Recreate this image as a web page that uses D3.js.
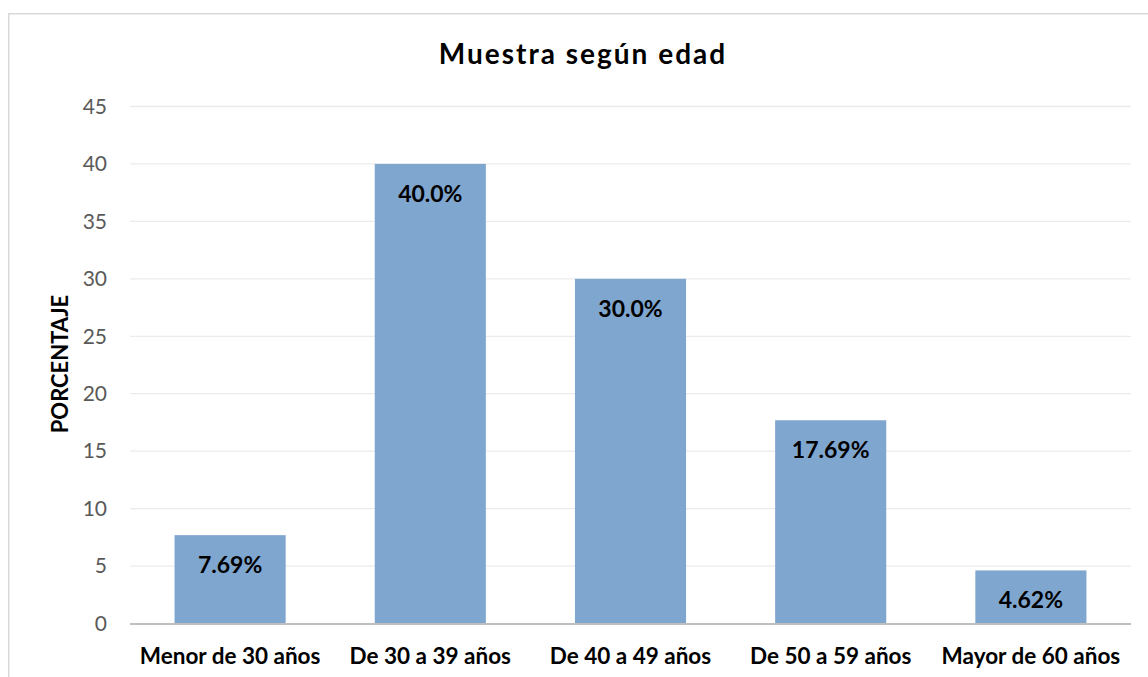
<!DOCTYPE html>
<html><head><meta charset="utf-8">
<script src="https://cdn.jsdelivr.net/npm/d3@7"></script>
<style>body{margin:0;background:#fff}svg{display:block}text{font-family:Lato,"Open Sans",sans-serif}</style>
</head><body><svg id="c" width="1148" height="677"></svg>
<script>
const categories = ["Menor de 30 años","De 30 a 39 años","De 40 a 49 años","De 50 a 59 años","Mayor de 60 años"];
const values = [7.69, 40.0, 30.0, 17.69, 4.62];
const valueLabels = ["7.69%","40.0%","30.0%","17.69%","4.62%"];
const yTicks = [0,5,10,15,20,25,30,35,40,45];
const title = "Muestra según edad";
const yTitle = "PORCENTAJE";

const svg = d3.select("#c");
const m = {left:130, right:1131, top:106.5, bottom:623.5};
svg.append("rect").attr("x",8.75).attr("y",13.75).attr("width",1200).attr("height",700)
  .attr("fill","#fff").attr("stroke","#D9D9D9").attr("stroke-width",1.5);

const x = d3.scaleBand().domain(categories).range([m.left,m.right]).paddingInner(0.445).paddingOuter(0.2225);
const y = d3.scaleLinear().domain([0,45]).range([m.bottom,m.top]);

const grid = svg.append("g");
grid.selectAll("line").data(yTicks.filter(d=>d>0)).join("line")
  .attr("x1",m.left).attr("x2",m.right).attr("y1",d=>y(d)).attr("y2",d=>y(d))
  .attr("stroke","#EBEBEB").attr("stroke-width",1.3);

const yAxis = svg.append("g").attr("transform",`translate(${m.left},0)`)
  .call(d3.axisLeft(y).tickValues(yTicks).tickSize(0).tickPadding(23));
yAxis.select(".domain").remove();
yAxis.selectAll("text").attr("font-size",21).attr("fill","#595959").attr("font-family","Lato");

svg.append("g").selectAll("rect").data(values).join("rect")
  .attr("x",(d,i)=>x(categories[i])).attr("width",x.bandwidth())
  .attr("y",d=>y(d)).attr("height",d=>y(0)-y(d)).attr("fill","#7FA6CF");

svg.append("line").attr("x1",m.left).attr("x2",m.right).attr("y1",y(0)+0.5).attr("y2",y(0)+0.5)
  .attr("stroke","#BFBFBF").attr("stroke-width",2);

svg.append("g").selectAll("text").data(values).join("text")
  .attr("x",(d,i)=>x(categories[i])+x.bandwidth()/2).attr("y",d=>y(d)+38)
  .attr("text-anchor","middle").attr("font-size",23).attr("font-weight","bold").attr("fill","#000")
  .text((d,i)=>valueLabels[i]);

const xAxis = svg.append("g").attr("transform",`translate(0,${m.bottom})`)
  .call(d3.axisBottom(x).tickSize(0).tickPadding(0));
xAxis.select(".domain").remove();
xAxis.selectAll("text").attr("dy",null).attr("y",40).attr("font-size",22.5).attr("font-weight","bold").attr("fill","#000").attr("font-family","Lato");

svg.append("text").attr("x",583).attr("y",64).attr("text-anchor","middle")
  .attr("font-size",28).attr("font-weight","bold").attr("letter-spacing",2).attr("fill","#000").text(title);

svg.append("text").attr("transform","translate(68,364) rotate(-90)").attr("text-anchor","middle")
  .attr("font-size",22).attr("font-weight","bold").attr("fill","#000").text(yTitle);
</script></body></html>
